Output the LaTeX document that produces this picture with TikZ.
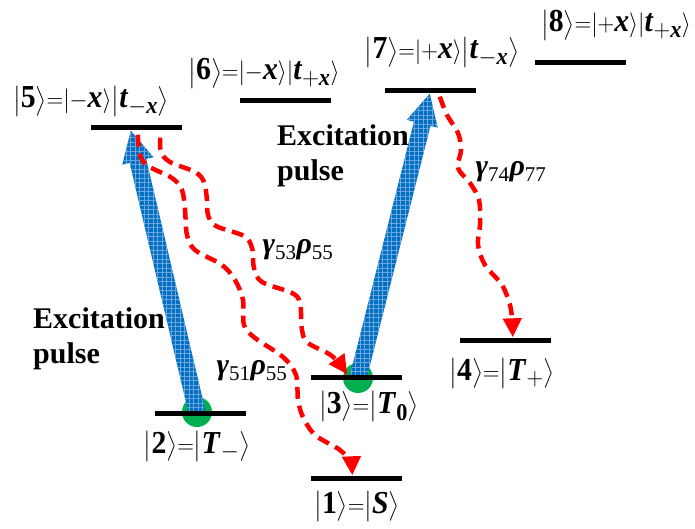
\documentclass[tikz,border=0pt]{standalone}
\usepackage{amsmath}
\usepackage{graphicx}
\usepackage{fontspec}
\setmainfont{Liberation Serif}
\usepackage{tikz}
\usetikzlibrary{arrows.meta,calc,patterns.meta}
\definecolor{pblue}{RGB}{0,112,192}
\definecolor{pgreen}{RGB}{0,176,80}
\definecolor{pgrid}{RGB}{110,165,225}
\DeclareMathSizes{32}{32}{24}{18}
\newcommand\kt[1]{{\left|#1\right\rangle}}
\newcommand\bi[1]{\textbf{\textit{#1}}}
\newcommand\kl[1]{\scalebox{0.93}[1]{$#1$}}
\tikzset{
  lvl/.style={rectangle,fill=black,minimum width=91pt,minimum height=5pt,inner sep=0pt},
  blob/.style={circle,fill=pgreen,minimum size=30pt,inner sep=0pt},
  ket/.style={font=\fontsize{32}{34}\selectfont,inner sep=0pt,anchor=base},
  rate/.style={font=\fontsize{30}{30}\selectfont,inner sep=0pt},
  exc/.style={font=\fontsize{30}{35}\selectfont\bfseries,align=left,anchor=north west,inner sep=0pt},
  pulse/.style={fill=pblue,postaction={pattern={Hatch[distance=4.5pt,line width=0.5pt]},pattern color=pgrid}},
  decay/.style={red,line width=4.5pt,dash pattern=on 12pt off 7pt,
    -{Triangle[length=19pt,width=18pt]}},
}

\begin{document}
\begin{tikzpicture}[x=1pt,y=-1pt]
  \useasboundingbox (0,0) rectangle (695,529);
  % pumped triplet sublevels
  \node[blob] (g2) at (197,412) {};
  \node[blob] (g3) at (358,378) {};
  % energy levels
  \foreach \n/\x/\y in {1/356/478, 2/200.5/413, 3/356/377, 4/505.5/340,
                        5/136.5/128, 6/285.5/101, 7/430.5/91, 8/580/63}
    \node[lvl] (l\n) at (\x,\y) {};
  \coordinate (t5) at ($(l5.south west)+(40,0)$);
  \coordinate (t7) at ($(l7.south west)+(45,0)$);
  % excitation pulses
  \foreach \s/\t in {g2/t5, g3/t7} {
    \coordinate (h) at ($(\t)!31pt!(\s)$);
    \fill[pulse] ($(\s)!8.5pt!90:(\t)$) -- ($(h)!8.5pt!90:(\t)$) -- ($(h)!16pt!90:(\t)$)
      -- (\t) -- ($(h)!16pt!-90:(\t)$) -- ($(h)!8.5pt!-90:(\t)$) -- ($(\s)!8.5pt!-90:(\t)$) -- cycle;
  }
  \foreach \n in {2,3,5,7} \node[lvl] at (l\n) {};
  % decay channels
  \coordinate (r51) at ($(l5.south west)+(47,4)$);
  \coordinate (r53) at ($(l5.south east)+(-22,7)$);
  \coordinate (r74) at ($(l7.south west)+(55,3)$);
  \coordinate (e51) at ($(l1.north west)+(42,0)$);
  \coordinate (e53) at ($(l3.north west)+(37,0)$);
  \coordinate (e74) at ($(l4.north west)+(53,0)$);
  \draw[decay] plot[smooth,tension=0.55] coordinates {(r53) (161,152) (170,162) (195,172)
    (204,182) (207,200) (208,215) (216,226) (244,236) (252,248) (254,268) (262,282)
    (292,293) (300,303) (302,330) (308,343) (332,356) (e53)};
  \draw[decay] plot[smooth,tension=0.55] coordinates {(r51) (140,155) (148,166) (172,178)
    (182,190) (185,210) (187,235) (195,250) (222,265) (235,280) (243,300) (244,325)
    (255,338) (283,357) (296,375) (298,400) (303,417) (315,435) (340,450) (350,462) (e51)};
  \draw[decay] plot[smooth,tension=0.55] coordinates {(r74) (447,115) (458,133) (461,150)
    (458,168) (470,183) (479,200) (480,225) (478,245) (485,265) (502,285) (510,305)
    (512,320) (e74)};
  % labels
  \node[ket] (k1) at (357,513) {\kl{\kt{\textbf{1}}{=}\kt{\bi{S}}}};
  \node[ket] (k2) at (197,453) {\kl{\kt{\textbf{2}}{=}\kt{\bi{T}_{-}}}};
  \node[ket] (k3) at (369,413) {\kl{\kt{\textbf{3}}{=}\kt{\bi{T}_{\textbf{0}}}}};
  \node[ket] (k4) at (502,380) {\kl{\kt{\textbf{4}}{=}\kt{\bi{T}_{+}}}};
  \node[ket] (k5) at (91,108) {\kl{\kt{\textbf{5}}{=}\kt{-\bi{x}}\kt{\bi{t}_{-\bi{x}}}}};
  \node[ket] (k6) at (264,80) {\kl{\kt{\textbf{6}}{=}\kt{-\bi{x}}\kt{\bi{t}_{+\bi{x}}}}};
  \node[ket] (k7) at (442,59) {\kl{\kt{\textbf{7}}{=}\kt{+\bi{x}}\kt{\bi{t}_{-\bi{x}}}}};
  \node[ket] (k8) at (616,32) {\kl{\kt{\textbf{8}}{=}\kt{+\bi{x}}\kt{\bi{t}_{+\bi{x}}}}};
  \node[rate] (w53) at (298,250) {\bi{γ}\textsubscript{53}\bi{ρ}\textsubscript{55}};
  \node[rate] (w51) at (252,371) {\bi{γ}\textsubscript{51}\bi{ρ}\textsubscript{55}};
  \node[rate] (w74) at (511,172) {\bi{γ}\textsubscript{74}\bi{ρ}\textsubscript{77}};
  \node[exc] (p1) at (33,307) {Excitation\\pulse};
  \node[exc] (p2) at (277,124) {Excitation\\pulse};
\end{tikzpicture}
\end{document}
